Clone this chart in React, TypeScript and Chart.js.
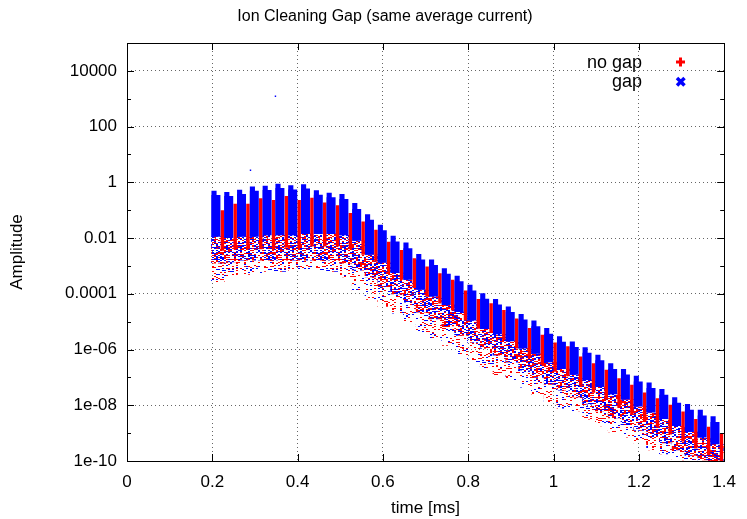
import React, { useEffect, useRef } from 'react';
import { Chart, registerables } from 'chart.js';

Chart.register(...registerables);

// ---------------- data ----------------
// start time [ms] of each 0.03 ms turn
const trainTime = [0.2, 0.23, 0.26, 0.29, 0.32, 0.35, 0.38, 0.41, 0.44, 0.47, 0.5, 0.53, 0.56, 0.59, 0.62, 0.65, 0.68, 0.71, 0.74, 0.77, 0.8, 0.83, 0.86, 0.89, 0.92, 0.95, 0.98, 1.01, 1.04, 1.07, 1.1, 1.13, 1.16, 1.19, 1.22, 1.25, 1.28, 1.31, 1.34, 1.37];

// "gap" series: peak at the head of each turn, level at its tail, and bottom of the dense cloud
const gapHigh = [0.5, 0.45, 0.54, 0.71, 0.76, 0.89, 0.79, 0.85, 0.52, 0.42, 0.38, 0.18, 0.071, 0.03, 0.012, 6.9e-3, 2.7e-3, 1.7e-3, 8.3e-4, 4.4e-4, 2.1e-4, 1.05e-4, 6.5e-5, 3.5e-5, 1.9e-5, 1.1e-5, 5.9e-6, 3.0e-6, 1.95e-6, 1.2e-6, 6.5e-7, 3.2e-7, 2.0e-7, 1.15e-7, 6.6e-8, 3.8e-8, 1.95e-8, 1.1e-8, 6.9e-9, 4.0e-9];
const gapHighLate = [0.35, 0.32, 0.38, 0.5, 0.53, 0.62, 0.55, 0.6, 0.36, 0.29, 0.25, 0.11, 0.045, 0.019, 7.5e-3, 4.3e-3, 1.7e-3, 1.07e-3, 5.2e-4, 2.8e-4, 1.3e-4, 6.6e-5, 4.1e-5, 2.2e-5, 1.2e-5, 6.9e-6, 3.7e-6, 1.9e-6, 1.23e-6, 7.6e-7, 4.1e-7, 2.0e-7, 1.26e-7, 7.2e-8, 4.2e-8, 2.4e-8, 1.23e-8, 6.9e-9, 4.3e-9, 2.5e-9];
const gapLow = [0.0112, 0.01, 0.0112, 0.0112, 0.0126, 0.0126, 0.0126, 0.0141, 0.0141, 0.0141, 0.0126, 0.008, 0.0025, 0.0013, 5.6e-4, 3.2e-4, 1.4e-4, 8.0e-5, 4.0e-5, 2.2e-5, 1.1e-5, 5.5e-6, 3.5e-6, 2.0e-6, 1.1e-6, 7.0e-7, 3.5e-7, 2.0e-7, 1.25e-7, 8.0e-8, 4.5e-8, 2.5e-8, 1.6e-8, 9.0e-9, 5.5e-9, 3.2e-9, 1.8e-9, 1.1e-9, 7.0e-10, 4.0e-10];

// "no gap" series: top and bottom of the dense stripe of each turn
const noGapHigh = [0.1, 0.17, 0.17, 0.27, 0.23, 0.32, 0.23, 0.28, 0.19, 0.15, 0.079, 0.039, 0.02, 0.0074, 0.0037, 0.0019, 9.5e-4, 5.5e-4, 3.2e-4, 1.3e-4, 6.5e-5, 4.6e-5, 2.6e-5, 1.3e-5, 5.9e-6, 3.4e-6, 1.8e-6, 1.3e-6, 5.6e-7, 3.2e-7, 1.9e-7, 9.3e-8, 5.4e-8, 2.9e-8, 1.8e-8, 1.05e-8, 6.0e-9, 3.2e-9, 1.7e-9, 1.0e-9];
const noGapLow = [0.0035, 0.004, 0.004, 0.004, 0.004, 0.0045, 0.0045, 0.005, 0.005, 0.005, 0.004, 0.0025, 0.0014, 6.3e-4, 3.2e-4, 1.6e-4, 7.9e-5, 4.5e-5, 2.5e-5, 1.1e-5, 5.6e-6, 4.0e-6, 2.2e-6, 1.1e-6, 5.0e-7, 2.8e-7, 1.6e-7, 1.1e-7, 5.0e-8, 2.8e-8, 1.6e-8, 7.9e-9, 4.5e-9, 2.5e-9, 1.6e-9, 8.9e-10, 5.0e-10, 2.8e-10, 1.6e-10, 1.0e-10];

// scattered low-amplitude particles of both series below the dense parts
const spreadMid = [1.26e-3, 1.4e-3, 1.6e-3, 1.6e-3, 1.6e-3, 1.6e-3, 1.6e-3, 1.6e-3, 1.6e-3, 1.6e-3, 1.26e-3, 7.1e-4, 4.0e-4, 1.8e-4, 1.0e-4, 5.0e-5, 2.2e-5, 1.26e-5, 7.1e-6, 3.2e-6, 1.8e-6, 1.1e-6, 6.3e-7, 3.5e-7, 1.8e-7, 1.0e-7, 5.6e-8, 3.5e-8, 2.0e-8, 1.1e-8, 6.3e-9, 3.5e-9, 2.0e-9, 1.26e-9, 7.1e-10, 4.5e-10, 2.5e-10, 1.6e-10, 1.1e-10, 1.0e-10];
const spreadLow = [2.5e-4, 4.0e-4, 5.0e-4, 5.0e-4, 6.3e-4, 6.3e-4, 7.9e-4, 7.9e-4, 7.1e-4, 6.3e-4, 4.0e-4, 1.26e-4, 6.3e-5, 3.5e-5, 2.0e-5, 1.0e-5, 4.0e-6, 2.5e-6, 1.4e-6, 6.3e-7, 3.5e-7, 2.2e-7, 1.26e-7, 7.9e-8, 4.5e-8, 2.5e-8, 1.26e-8, 7.9e-9, 6.3e-9, 3.2e-9, 1.8e-9, 1.1e-9, 7.1e-10, 4.5e-10, 2.5e-10, 1.8e-10, 1.1e-10, 1.0e-10, 1.0e-10, 1.0e-10];

// isolated outlier particles (gap series)
const strayTime = [0.348, 0.2895];
const strayAmp = [1230, 2.7];

// time offsets of each series inside a turn [ms]
const gapOffset = 0.0085;
const gapHeadOffset = 0.004;
const noGapOffset = 0.0236;
const spreadOffset = 0.013;

const xTickValues = [0, 0.2, 0.4, 0.6, 0.8, 1, 1.2, 1.4];
const xTickLabels = ['0', '0.2', '0.4', '0.6', '0.8', '1', '1.2', '1.4'];
const yTickValues = [1e-10, 1e-9, 1e-8, 1e-7, 1e-6, 1e-5, 1e-4, 1e-3, 1e-2, 1e-1, 1, 10, 100, 1000, 10000, 100000];
const yTickLabels = ['1e-10', '', '1e-08', '', '1e-06', '', '0.0001', '', '0.01', '', '1', '', '100', '', '10000', ''];

const titleText = 'Ion Cleaning Gap (same average current)';
const xTitle = 'time [ms]';
const yTitle = 'Amplitude';
const legendNames = ['no gap', 'gap'];

const RED = '#ff0000';
const BLUE = '#0000ff';
const FONT = '"Liberation Sans", Arial, Helvetica, sans-serif';

function hash(x: number, y: number, seed: number) {
  let h = Math.imul(x * 374761 + y * 668265 + seed * 97, 2654435761) >>> 0;
  h ^= h >>> 15;
  h = Math.imul(h, 2246822519) >>> 0;
  h ^= h >>> 13;
  h = Math.imul(h, 3266489917) >>> 0;
  h ^= h >>> 16;
  return h >>> 0;
}

function makeSpeckle(density: number, redShare: number, seed: number) {
  const c = document.createElement('canvas');
  const w = 52, h = 46;
  c.width = w; c.height = h;
  const g = c.getContext('2d')!;
  for (let y = 0; y < h; y++) {
    for (let x = 0; x < w; x += 2) {
      const v = hash(x, y, seed);
      if ((v & 0xffff) / 65536 < density) {
        g.fillStyle = ((v >>> 16) & 0xff) / 256 < redShare ? RED : BLUE;
        g.fillRect(x, y, 2, 1);
      }
    }
  }
  return g.createPattern(c, 'repeat')!;
}

const framePlugin = {
  id: 'frame',
  afterDraw(chart: any) {
    const { ctx, chartArea: a, scales } = chart;
    const xs = scales.x, ys = scales.y;
    ctx.save();
    ctx.strokeStyle = '#000';
    ctx.lineWidth = 1;
    ctx.beginPath();
    yTickValues.forEach((v, i) => {
      const py = Math.round(ys.getPixelForValue(v)) + 0.5;
      const len = yTickLabels[i] ? 7 : 4;
      ctx.moveTo(a.left, py); ctx.lineTo(a.left + len, py);
      ctx.moveTo(a.right, py); ctx.lineTo(a.right - len, py);
    });
    xTickValues.forEach((v) => {
      const px = Math.round(xs.getPixelForValue(v)) + 0.5;
      ctx.moveTo(px, a.bottom); ctx.lineTo(px, a.bottom - 7);
      ctx.moveTo(px, a.top); ctx.lineTo(px, a.top + 7);
    });
    ctx.stroke();
    ctx.strokeRect(Math.round(a.left) + 0.5, Math.round(a.top) + 0.5, Math.round(a.right - a.left), Math.round(a.bottom - a.top));

    ctx.fillStyle = '#000';
    ctx.textBaseline = 'middle';
    ctx.textAlign = 'center';
    ctx.font = `16px ${FONT}`;
    ctx.fillText(titleText, 385, 17);
    ctx.font = `17px ${FONT}`;
    ctx.fillText(xTitle, (a.left + a.right) / 2, 508);
    ctx.save();
    ctx.translate(17, 252);
    ctx.rotate(-Math.PI / 2);
    ctx.fillText(yTitle, 0, 0);
    ctx.restore();

    // legend
    ctx.textAlign = 'right';
    ctx.font = `18px ${FONT}`;
    ctx.fillText(legendNames[0], 642, 63);
    ctx.fillText(legendNames[1], 642, 82);
    ctx.lineCap = 'butt';
    ctx.strokeStyle = RED;
    ctx.lineWidth = 3;
    ctx.beginPath();
    ctx.moveTo(676, 62); ctx.lineTo(685, 62);
    ctx.moveTo(680.5, 57.5); ctx.lineTo(680.5, 66.5);
    ctx.stroke();
    ctx.strokeStyle = BLUE;
    ctx.lineWidth = 3.5;
    ctx.beginPath();
    ctx.moveTo(677, 78); ctx.lineTo(684.5, 85.5);
    ctx.moveTo(684.5, 78); ctx.lineTo(677, 85.5);
    ctx.stroke();
    ctx.restore();
  },
};

function hiddenX() {
  return { type: 'linear', display: false, min: 0, max: 1.4, offset: false };
}

function floatBars(label: string, offset: number, lo: number[], hi: number[], color: any, axis: string, share: number, order: number) {
  return {
    label,
    data: trainTime.map((t, i) => ({ x: t + offset, y: [lo[i], hi[i]] })),
    backgroundColor: color,
    borderWidth: 0,
    grouped: false,
    barPercentage: 1,
    categoryPercentage: share,
    xAxisID: axis,
    yAxisID: 'y',
    order,
  };
}

export default function App() {
  const ref = useRef<HTMLCanvasElement>(null);

  useEffect(() => {
    const canvas = ref.current!;
    const nearSpeckle = makeSpeckle(0.58, 0.5, 3);
    const farSpeckle = makeSpeckle(0.17, 0.7, 11);

    const chart = new Chart(canvas, {
      type: 'bar',
      data: {
        datasets: [
          {
            type: 'line',
            label: 'stray',
            data: strayTime.map((t, i) => ({ x: t, y: strayAmp[i] })),
            showLine: false,
            pointRadius: 1,
            pointStyle: 'rect',
            backgroundColor: BLUE,
            borderColor: BLUE,
            borderWidth: 0,
            xAxisID: 'x',
            yAxisID: 'y',
            order: 0,
          } as any,
          floatBars(legendNames[1], gapHeadOffset, gapLow, gapHigh, BLUE, 'xGapHead', 0.4, 1),
          floatBars(legendNames[1], gapOffset, gapLow, gapHighLate, BLUE, 'xGap', 0.7, 1),
          floatBars(legendNames[0], noGapOffset, noGapLow, noGapHigh, RED, 'xNoGap', 0.27, 2),
          floatBars('spread near', spreadOffset, spreadMid, gapLow, nearSpeckle, 'xSpread', 1, 3),
          floatBars('spread far', spreadOffset, spreadLow, spreadMid, farSpeckle, 'xSpread', 1, 4),
        ] as any,
      },
      options: {
        animation: false,
        responsive: false,
        devicePixelRatio: 1,
        layout: { padding: { top: 43, right: 17, left: 0, bottom: 0 } },
        plugins: { legend: { display: false }, tooltip: { enabled: false }, title: { display: false } },
        scales: {
          x: {
            type: 'linear',
            min: 0,
            max: 1.4,
            offset: false,
            afterBuildTicks: (s: any) => { s.ticks = xTickValues.map((v) => ({ value: v })); },
            afterFit: (s: any) => { s.height = 58; },
            ticks: {
              autoSkip: false,
              maxRotation: 0,
              padding: 11,
              color: '#000',
              font: { family: FONT, size: 17 },
              callback: (_v: any, i: number) => xTickLabels[i],
            },
            grid: { color: 'rgba(0,0,0,0.6)', lineWidth: 1, drawTicks: false, offset: false },
            border: { display: false, dash: [1, 3] },
          },
          xGap: hiddenX(),
          xGapHead: hiddenX(),
          xNoGap: hiddenX(),
          xSpread: hiddenX(),
          y: {
            type: 'logarithmic',
            min: 1e-10,
            max: 1e5,
            afterBuildTicks: (s: any) => { s.ticks = yTickValues.map((v) => ({ value: v })); },
            afterFit: (s: any) => { s.width = 127; },
            ticks: {
              autoSkip: false,
              padding: 10,
              color: '#000',
              font: { family: FONT, size: 17 },
              callback: (_v: any, i: number) => yTickLabels[i],
            },
            grid: {
              color: (c: any) => (yTickLabels[c.index] ? 'rgba(0,0,0,0.6)' : 'rgba(0,0,0,0)'),
              lineWidth: 1,
              drawTicks: false,
            },
            border: { display: false, dash: [1, 3] },
          },
        } as any,
      },
      plugins: [framePlugin],
    });
    return () => chart.destroy();
  }, []);

  return (
    <div style={{ position: 'fixed', left: 0, top: 0, width: 747, height: 519, background: '#fff' }}>
      <canvas ref={ref} width={747} height={519} style={{ display: 'block', width: 747, height: 519 }} />
    </div>
  );
}
